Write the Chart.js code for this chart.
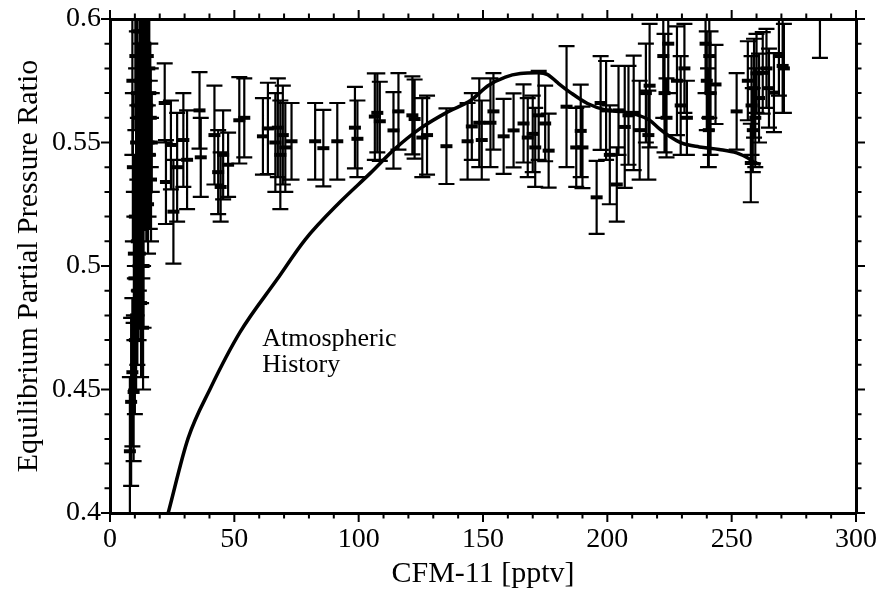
<!DOCTYPE html>
<html>
<head>
<meta charset="utf-8">
<script src="https://cdn.jsdelivr.net/npm/chart.js@4.4.1/dist/chart.umd.min.js"></script>
<style>
  html, body { margin: 0; padding: 0; background: #fff; }
</style>
</head>
<body>
<canvas id="cfc-chart" width="878" height="596"></canvas>
<script>
// measured CFM-11 points: x, ratio, half error bar
const cfcX = [
  8.0, 8.5, 9.0, 9.5, 10.0, 10.5, 11.0, 11.5, 12.0, 12.5, 13.0, 9.8, 10.8, 11.2, 12.2, 13.5, 14.0, 11.8,
  12.8, 13.2, 14.5, 15.0, 15.5, 16.0, 10.2, 11.0, 12.0, 13.8, 14.8, 16.5, 9.2, 9.0, 10.0, 12.5, 13.5,
  14.2, 15.2, 16.2, 16.8, 13.0, 12.0, 11.0, 10.5, 14.0, 15.8, 12.6, 13.6, 10.8, 11.6, 15.3, 16.4, 9.6, 12.3, 14.6, 13.3,
  22.0, 22.5, 24.5, 25.5, 27.0, 29.5, 31.0, 36.0, 36.5, 42.0, 43.5, 44.5, 45.5, 47.5, 52.0, 54.0, 61.5,
  63.5, 66.5, 67.5, 68.5, 69.5, 70.5, 73.0, 82.5, 85.8, 91.4,
  98.5, 99.5, 106.5, 107.5, 108.5, 114.0, 116.0, 121.6, 122.5, 125.6, 127.5, 135.3, 143.8, 145.5, 148.5, 149.5,
  153.0, 154.2, 158.3, 162.3, 166.3, 168.0, 170.0, 171.0, 172.4, 175.0, 176.4, 183.6, 187.5, 189.3, 190.0,
  195.7, 197.3, 199.5, 201.0, 203.8, 204.5,
  207.0, 208.5, 210.6, 213.0, 215.5, 216.5, 217.0, 222.5, 223.0, 223.8, 224.5, 228.0, 229.5, 231.0, 232.0,
  239.5, 240.0, 240.5, 241.0, 241.5, 240.8, 243.5, 252.0,
  256.5, 257.7, 258.0, 258.5, 259.0, 259.5, 260.0, 261.0, 262.5, 264.0, 265.0, 267.0, 269.0, 270.5, 271.0, 285.5
]
const ratioY = [
  0.425, 0.445, 0.457, 0.449, 0.470, 0.480, 0.490, 0.500, 0.505, 0.515, 0.525, 0.495, 0.510, 0.530, 0.540, 0.545, 0.555, 0.560,
  0.570, 0.580, 0.575, 0.565, 0.550, 0.545, 0.585, 0.595, 0.600, 0.590, 0.560, 0.535, 0.540, 0.575, 0.520, 0.485, 0.500,
  0.590, 0.585, 0.570, 0.550, 0.595, 0.575, 0.565, 0.550, 0.535, 0.580, 0.545, 0.560, 0.570, 0.515, 0.525, 0.560, 0.505, 0.595, 0.530, 0.475,
  0.566, 0.534, 0.549, 0.522, 0.540, 0.551, 0.543, 0.563, 0.544, 0.553, 0.538, 0.532, 0.545, 0.541, 0.559, 0.560, 0.5525,
  0.5557, 0.550, 0.556, 0.545, 0.553, 0.548, 0.5505, 0.5505, 0.5477, 0.5505,
  0.556, 0.5515, 0.5605, 0.562, 0.5586, 0.5549, 0.5626, 0.561, 0.5595, 0.552, 0.553, 0.5485, 0.5505, 0.5565, 0.558, 0.551,
  0.558, 0.5626, 0.5525, 0.5549, 0.5577, 0.552, 0.5535, 0.548, 0.561, 0.5577, 0.5467, 0.5645, 0.548, 0.5547, 0.548,
  0.5278, 0.566, 0.563, 0.545, 0.533, 0.563,
  0.5563, 0.561, 0.562, 0.555, 0.570, 0.553, 0.573, 0.585, 0.570, 0.560, 0.590, 0.575, 0.565, 0.580, 0.560,
  0.590, 0.575, 0.560, 0.585, 0.570, 0.555, 0.5735, 0.5626,
  0.575, 0.5417, 0.565, 0.555, 0.572, 0.560, 0.578, 0.568, 0.5782, 0.580, 0.572, 0.5702, 0.585, 0.581, 0.580, 0.600
]
const ratioErr = [
  0.030, 0.034, 0.030, 0.028, 0.030, 0.030, 0.030, 0.030, 0.030, 0.030, 0.030, 0.025, 0.030, 0.030, 0.030, 0.030, 0.030, 0.030,
  0.030, 0.030, 0.025, 0.025, 0.030, 0.030, 0.030, 0.030, 0.025, 0.020, 0.030, 0.025, 0.030, 0.030, 0.025, 0.030, 0.025,
  0.025, 0.020, 0.020, 0.020, 0.025, 0.025, 0.030, 0.030, 0.020, 0.020, 0.025, 0.030, 0.025, 0.025, 0.020, 0.020, 0.025, 0.020, 0.020, 0.025,
  0.016, 0.017, 0.018, 0.021, 0.022, 0.019, 0.020, 0.0155, 0.016, 0.020, 0.017, 0.014, 0.018, 0.013, 0.0175, 0.016, 0.0155,
  0.0185, 0.020, 0.020, 0.022, 0.020, 0.018, 0.0155, 0.0155, 0.0155, 0.0155,
  0.0165, 0.0155, 0.0175, 0.016, 0.016, 0.0155, 0.0155, 0.0158, 0.016, 0.016, 0.016, 0.0153, 0.0155, 0.0135, 0.018, 0.016,
  0.018, 0.0155, 0.0152, 0.015, 0.0158, 0.016, 0.0155, 0.016, 0.018, 0.0153, 0.015, 0.0245, 0.016, 0.0187, 0.0165,
  0.0148, 0.019, 0.020, 0.020, 0.015, 0.018,
  0.0247, 0.020, 0.0232, 0.020, 0.020, 0.018, 0.025, 0.025, 0.024, 0.016, 0.020, 0.022, 0.020, 0.018, 0.015,
  0.020, 0.020, 0.020, 0.025, 0.025, 0.015, 0.016, 0.0155,
  0.016, 0.0159, 0.020, 0.017, 0.020, 0.020, 0.016, 0.018, 0.0165, 0.016, 0.016, 0.016, 0.016, 0.019, 0.018, 0.0157
]

// atmospheric history curve
const histX = [23.4, 31.4, 40.3, 52.3, 67.2, 78.5, 92.6, 104.7, 114, 124.8, 136, 145, 152, 159, 165, 172, 176,
  180, 185.2, 192, 200, 206, 212, 217, 221, 225, 230, 237, 245, 252, 256.5, 259, 261.7]
const histY = [0.4, 0.4302, 0.4503, 0.4732, 0.4946, 0.5107, 0.526, 0.5376, 0.5469, 0.5557, 0.5625, 0.567, 0.573, 0.5765,
  0.5779, 0.5782, 0.5775, 0.5742, 0.5702, 0.5658, 0.563, 0.5625, 0.5612, 0.559, 0.5555, 0.5525, 0.5497, 0.5482, 0.5472,
  0.5458, 0.5437, 0.542, 0.5412]

const xTicks = [0, 50, 100, 150, 200, 250, 300]
const xTickLabels = ['0', '50', '100', '150', '200', '250', '300']
const yTicks = [0.4, 0.45, 0.5, 0.55, 0.6]
const yTickLabels = ['0.4', '0.45', '0.5', '0.55', '0.6']
const xMinorStep = 10
const yMinorStep = 0.01
const histLabel = ['Atmospheric', 'History']

const serif = 'Liberation Serif'

// vertical error bars with caps
const errorBars = {
  id: 'errorBars',
  afterDatasetsDraw(chart) {
    const { ctx, chartArea: a, scales: { x, y } } = chart
    ctx.save()
    ctx.beginPath()
    ctx.rect(a.left, a.top, a.right - a.left, a.bottom - a.top)
    ctx.clip()
    ctx.strokeStyle = '#000'
    ctx.lineWidth = 2.2
    ctx.beginPath()
    cfcX.forEach((v, i) => {
      const px = x.getPixelForValue(v)
      const top = y.getPixelForValue(ratioY[i] + ratioErr[i])
      const bot = y.getPixelForValue(ratioY[i] - ratioErr[i])
      ctx.moveTo(px, top); ctx.lineTo(px, bot)
      ctx.moveTo(px - 8, top); ctx.lineTo(px + 8, top)
      ctx.moveTo(px - 8, bot); ctx.lineTo(px + 8, bot)
    })
    ctx.stroke()
    ctx.restore()
  }
}

// outward tick marks on all four sides, long at labelled values
const boxTicks = {
  id: 'boxTicks',
  afterDraw(chart) {
    const { ctx, chartArea: a, scales: { x, y } } = chart
    ctx.save()
    ctx.strokeStyle = '#000'
    ctx.lineWidth = 2
    ctx.beginPath()
    const nx = Math.round((x.max - x.min) / xMinorStep)
    for (let k = 0; k <= nx; k++) {
      const v = x.min + k * xMinorStep
      const len = xTicks.some(t => Math.abs(t - v) < 1e-6) ? 9 : 5.5
      const px = x.getPixelForValue(v)
      ctx.moveTo(px, a.bottom); ctx.lineTo(px, a.bottom + len)
      ctx.moveTo(px, a.top); ctx.lineTo(px, a.top - len)
    }
    const ny = Math.round((y.max - y.min) / yMinorStep)
    for (let k = 0; k <= ny; k++) {
      const v = y.min + k * yMinorStep
      const len = yTicks.some(t => Math.abs(t - v) < 1e-6) ? 9 : 5.5
      const py = y.getPixelForValue(v)
      ctx.moveTo(a.left, py); ctx.lineTo(a.left - len, py)
      ctx.moveTo(a.right, py); ctx.lineTo(a.right + len, py)
    }
    ctx.stroke()
    ctx.restore()
  }
}

const curveLabel = {
  id: 'curveLabel',
  afterDatasetsDraw(chart) {
    const { ctx, scales: { x, y } } = chart
    ctx.save()
    ctx.fillStyle = '#000'
    ctx.font = '26px "' + serif + '"'
    ctx.textBaseline = 'alphabetic'
    ctx.fillText(histLabel[0], x.getPixelForValue(61.2), y.getPixelForValue(0.4676))
    ctx.fillText(histLabel[1], x.getPixelForValue(61.2), y.getPixelForValue(0.4571))
    ctx.restore()
  }
}

const tickFont = { family: serif, size: 28 }
const titleFont = { family: serif, size: 30 }
const edge = { display: true, color: '#000', width: 3 }
const noGrid = { display: false, drawTicks: false, tickLength: 0 }

new Chart(document.getElementById('cfc-chart'), {
  type: 'scatter',
  data: {
    datasets: [
      {
        label: 'Atmospheric History',
        data: histX.map((v, i) => ({ x: v, y: histY[i] })),
        showLine: true,
        borderColor: '#000',
        borderWidth: 3.5,
        pointRadius: 0,
        cubicInterpolationMode: 'monotone'
      },
      {
        label: 'Measured',
        data: cfcX.map((v, i) => ({ x: v, y: ratioY[i] })),
        pointStyle: 'line',
        pointRadius: 6,
        borderWidth: 4,
        borderColor: '#000',
        backgroundColor: '#000'
      }
    ]
  },
  options: {
    responsive: false,
    animation: false,
    devicePixelRatio: 1,
    layout: { padding: 0 },
    plugins: { legend: { display: false }, tooltip: { enabled: false } },
    scales: {
      x: {
        type: 'linear', position: 'bottom', min: 0, max: 300,
        afterBuildTicks: s => { s.ticks = xTicks.map(v => ({ value: v })) },
        afterFit: s => { s.height = 83; s.paddingLeft = 0; s.paddingRight = 0 },
        grid: noGrid, border: edge,
        ticks: { font: tickFont, color: '#000', padding: 10, maxRotation: 0, autoSkip: false,
          callback: (v, i) => xTickLabels[i] },
        title: { display: true, text: 'CFM-11 [pptv]', color: '#000', font: titleFont, padding: { top: 0, bottom: 4 } }
      },
      xTop: {
        type: 'linear', position: 'top', min: 0, max: 300,
        afterFit: s => { s.height = 19; s.paddingLeft = 0; s.paddingRight = 0 },
        grid: noGrid, border: edge, ticks: { display: false }
      },
      y: {
        type: 'linear', position: 'left', min: 0.4, max: 0.6,
        afterBuildTicks: s => { s.ticks = yTicks.map(v => ({ value: v })) },
        afterFit: s => { s.width = 110; s.paddingTop = 0; s.paddingBottom = 0 },
        grid: noGrid, border: edge,
        ticks: { font: tickFont, color: '#000', padding: 9, autoSkip: false,
          callback: (v, i) => yTickLabels[i] },
        title: { display: true, text: 'Equilibrium Partial Pressure Ratio', color: '#000', font: titleFont, padding: { top: 11, bottom: 0 } }
      },
      yRight: {
        type: 'linear', position: 'right', min: 0.4, max: 0.6,
        afterFit: s => { s.width = 22; s.paddingTop = 0; s.paddingBottom = 0 },
        grid: noGrid, border: edge, ticks: { display: false }
      }
    }
  },
  plugins: [errorBars, boxTicks, curveLabel]
})
</script>
</body>
</html>
